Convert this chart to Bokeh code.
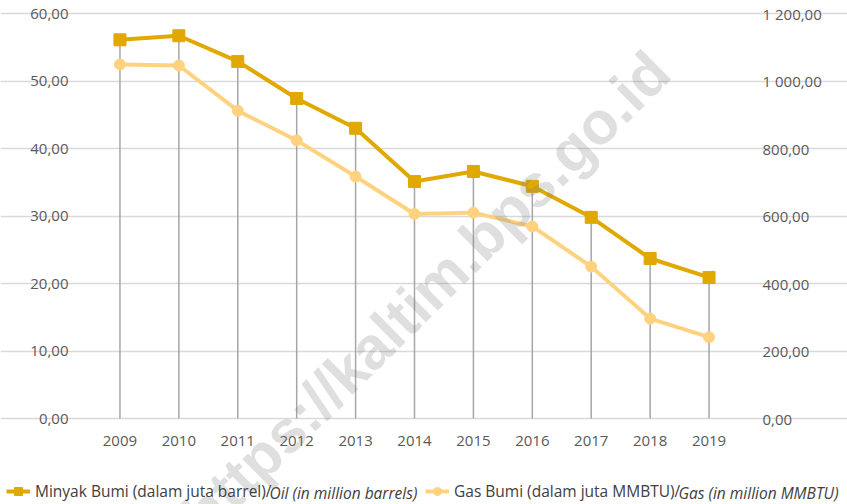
from bokeh.plotting import figure
from bokeh.models import Range1d, LinearAxis, FixedTicker, Legend, LegendItem, Label
from bokeh.embed import file_html
from bokeh.resources import INLINE

# ---- data ----
years = [2009, 2010, 2011, 2012, 2013, 2014, 2015, 2016, 2017, 2018, 2019]
oil = [56.1, 56.7, 52.9, 47.4, 43.0, 35.1, 36.6, 34.4, 29.8, 23.7, 20.9]
gas = [1049, 1046, 912, 824, 717, 606, 610, 569, 450, 296, 241]
zeros = [0] * len(years)

left_ticks = [0, 10, 20, 30, 40, 50, 60]
left_labels = ["0,00", "10,00", "20,00", "30,00", "40,00", "50,00", "60,00"]
right_ticks = [0, 200, 400, 600, 800, 1000, 1200]
right_labels = ["0,00", "200,00", "400,00", "600,00", "800,00", "1 000,00", "1 200,00"]
year_labels = [str(y) for y in years]

oil_name = "Minyak Bumi (dalam juta barrel)/"
oil_name_en = "Oil (in million barrels)"
gas_name = "Gas Bumi (dalam juta MMBTU)/"
gas_name_en = "Gas (in million MMBTU)"
watermark = "https://kaltim.bps.go.id"

OIL_C = "#E0A800"
GAS_C = "#FFD27F"
TXT = "#595959"
FONT = "Open Sans"

# ---- layout (pixels of the page) ----
W, H = 847, 504
FL, FR, FT, FB = 90, 738, 13, 418        # plot area edges
XMIN, XMAX = years[0] - 0.5, years[-1] + 0.5
YMAX = left_ticks[-1]
RATIO = right_ticks[-1] / left_ticks[-1]
xpx = (FR - FL) / (XMAX - XMIN)
ypx = (FB - FT) / YMAX
x_start = XMIN - FL / xpx
x_end = XMAX + (W - FR) / xpx
y_start = -(H - FB) / ypx
y_end = YMAX + FT / ypx

p = figure(width=W, height=H, output_backend="svg", toolbar_location=None,
           x_range=Range1d(x_start, x_end), y_range=Range1d(y_start, y_end),
           min_border=0, outline_line_color=None)
p.extra_y_ranges = {"gas": Range1d(y_start * RATIO, y_end * RATIO)}

# axes (placed at fixed data locations)
xa = p.xaxis[0]
xa.ticker = FixedTicker(ticks=years)
xa.major_label_overrides = dict(zip(years, year_labels))
xa.fixed_location = 0
xa.major_label_standoff = 11
ya = p.yaxis[0]
ya.ticker = FixedTicker(ticks=left_ticks)
ya.major_label_overrides = dict(zip(left_ticks, left_labels))
ya.fixed_location = XMIN
ya.major_label_standoff = 16
ra = LinearAxis(y_range_name="gas", ticker=FixedTicker(ticks=right_ticks),
                major_label_overrides=dict(zip(right_ticks, right_labels)))
ra.fixed_location = XMAX
ra.major_label_standoff = 18
p.add_layout(ra, "right")
for ax in (xa, ya, ra):
    ax.axis_line_color = None
    ax.major_tick_line_color = None
    ax.minor_tick_line_color = None
    ax.major_label_text_font = FONT
    ax.major_label_text_font_size = "15px"
    ax.major_label_text_color = TXT

p.xgrid.visible = False
p.ygrid.ticker = FixedTicker(ticks=left_ticks)
p.ygrid.bounds = (XMIN, XMAX)
p.ygrid.grid_line_color = "#d9d9d9"
p.ygrid.grid_line_width = 1.5

# drop lines
p.segment(x0=years, y0=zeros, x1=years, y1=oil, line_color="#a6a6a6", line_width=1.5)

gl = p.line(years, gas, y_range_name="gas", line_color=GAS_C, line_width=4)
gs = p.scatter(years, gas, y_range_name="gas", marker="circle", size=11,
               fill_color=GAS_C, line_color=GAS_C)
ol = p.line(years, oil, line_color=OIL_C, line_width=4)
os_ = p.scatter(years, oil, marker="square", size=12, fill_color=OIL_C, line_color=OIL_C)

legend = Legend(items=[LegendItem(label=oil_name, renderers=[ol, os_]),
                       LegendItem(label=gas_name, renderers=[gl, gs])],
                orientation="horizontal", location=(6, 2), padding=0, margin=0,
                spacing=7, glyph_width=24, glyph_height=20, label_height=20,
                label_width=383, label_standoff=5, border_line_color=None,
                background_fill_alpha=0, label_text_font=FONT,
                label_text_font_size="15.5px", label_text_color="#404040")
p.add_layout(legend)

for txt, xs in ((oil_name_en, 269), (gas_name_en, 678)):
    p.add_layout(Label(x=xs, y=12, x_units="screen", y_units="screen", text=txt,
                       text_font=FONT, text_font_style="italic", text_font_size="15.5px",
                       text_color="#404040", text_baseline="middle"))

p.add_layout(Label(x=2014.2, y=18.6, text=watermark, angle=0.78,
                   text_align="center", text_baseline="middle",
                   text_font="Liberation Sans", text_font_style="bold",
                   text_font_size="60px", text_color="#808080", text_alpha=0.25))

open("out.html", "w").write(file_html(p, INLINE))
